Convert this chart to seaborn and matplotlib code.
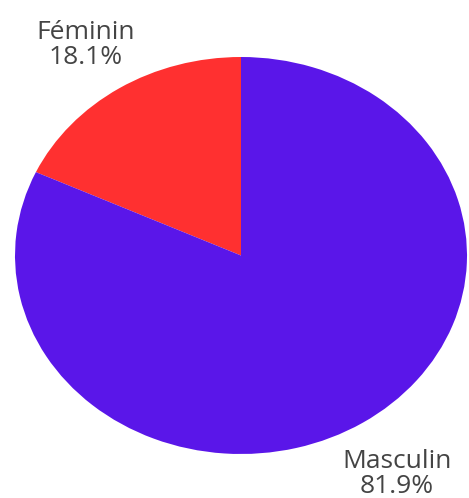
import matplotlib
matplotlib.use("Agg")
import matplotlib.pyplot as plt
import matplotlib.transforms as mtransforms
import seaborn as sns

categories = ["Féminin", "Masculin"]
values = [18.1, 81.9]
colors = ["#FF3030", "#5A16E9"]

sns.set_theme(style="white")
plt.rcParams['font.family'] = ['Open Sans', 'DejaVu Sans']

fig = plt.figure(figsize=(4.69, 4.98), dpi=100)
fig.patch.set_facecolor("white")
W, H = 469, 498
left, right, top, bottom = 15, 467, 57, 454
ax = fig.add_axes([left / W, 1 - bottom / H, (right - left) / W, (bottom - top) / H])

total = sum(values)
labels = [f"{c}\n{v / total * 100:.1f}%" for c, v in zip(categories, values)]
wedges, texts = ax.pie(values, labels=labels, colors=colors, startangle=90,
                       counterclock=True, labeldistance=1.28,
                       wedgeprops=dict(linewidth=0))
shift = mtransforms.ScaledTranslation(0, -4 / 100, fig.dpi_scale_trans)
for t in texts:
    t.set_ha("center")
    t.set_va("center")
    t.set_fontsize(19)
    t.set_color("#444444")
    t.set_linespacing(1.0)
    t.set_transform(ax.transData + shift)
ax.set_aspect("auto")
ax.set_xlim(-1, 1)
ax.set_ylim(-1, 1)
ax.axis("off")

fig.savefig("out.png", dpi=100, facecolor="white")
